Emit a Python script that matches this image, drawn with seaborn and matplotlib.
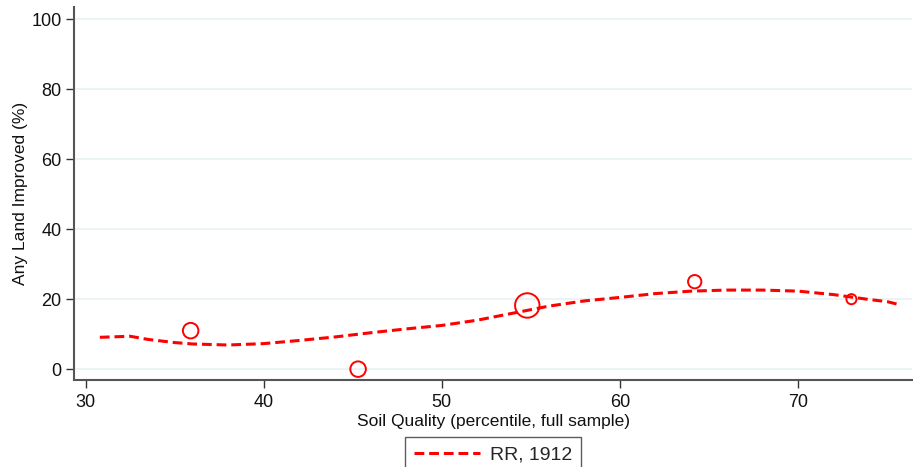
import matplotlib
matplotlib.use("Agg")
import matplotlib.pyplot as plt
import seaborn as sns
import pandas as pd
from matplotlib.lines import Line2D

# Binned means (percentile of soil quality vs share with any land improved)
bin_x = [35.9, 45.3, 54.8, 64.2, 73.0]
bin_y = [11.0, 0.0, 18.2, 25.0, 20.0]
bin_w = [125, 125, 310, 92, 53]

# Smoothed fit
fit_x = [30.8, 32.5, 33.5, 35, 36, 38, 40, 42, 44, 46, 48, 50, 52, 54, 56,
         58, 60, 62, 64, 66, 68, 70, 72, 74, 75, 75.8]
fit_y = [9.1, 9.4, 8.5, 7.6, 7.2, 6.9, 7.3, 8.2, 9.2, 10.4, 11.5, 12.5, 14.0,
         16.0, 18.0, 19.5, 20.5, 21.6, 22.3, 22.6, 22.6, 22.3, 21.3, 19.9,
         19.3, 18.3]

x_ticks = [30, 40, 50, 60, 70]
y_ticks = [0, 20, 40, 60, 80, 100]
series_label = "RR, 1912"

sns.set_theme(style="white")
plt.rcParams["font.family"] = ["Liberation Sans", "DejaVu Sans"]

fig = plt.figure(figsize=(9.13, 4.67), dpi=100)
ax = fig.add_axes([74 / 913, 1 - 380 / 467, (912 - 74) / 913, (380 - 7) / 467])

red = "#ff0000"
bins = pd.DataFrame({"x": bin_x, "y": bin_y, "w": bin_w})
fit = pd.DataFrame({"x": fit_x, "y": fit_y})

for yv in y_ticks:
    ax.axhline(yv, color="#eaf2f3", lw=1.3, zorder=0)

sns.lineplot(data=fit, x="x", y="y", ax=ax, color=red, lw=2.2,
             dashes=False, linestyle=(0, (3.2, 1.6)), zorder=3)
sns.scatterplot(data=bins, x="x", y="y", size="w",
                sizes=(min(bin_w), max(bin_w)), size_norm=(min(bin_w), max(bin_w)),
                marker="o", facecolors="none", edgecolors=red, linewidth=1.4,
                legend=False, ax=ax, zorder=4)

ax.set_xlim(29.35, 76.4)
ax.set_ylim(-3.1, 103.5)
ax.set_xticks(x_ticks)
ax.set_yticks(y_ticks)
ax.tick_params(axis="both", which="major", labelsize=13, length=6,
               width=1, color="#333333", labelcolor="#111111", pad=4,
               direction="out", bottom=True, left=True)
ax.tick_params(axis="y", pad=3)
for side in ("top", "right"):
    ax.spines[side].set_visible(False)
for side in ("left", "bottom"):
    ax.spines[side].set_color("#555555")
    ax.spines[side].set_linewidth(1.5)
ax.grid(False)

ax.set_xlabel("Soil Quality (percentile, full sample)", fontsize=12.5, labelpad=2, color="#111111")
ax.set_ylabel("Any Land Improved (%)", fontsize=12.5, labelpad=2, color="#111111")

handle = Line2D([], [], color=red, lw=2.2, linestyle=(0, (3.2, 1.6)))
leg = fig.legend([handle], [series_label], loc="upper center",
                 bbox_to_anchor=(493 / 913, 1 - 437 / 467), borderaxespad=0,
                 frameon=True, fancybox=False, edgecolor="#333333",
                 fontsize=14, handlelength=3.4, borderpad=0.45,
                 handletextpad=0.5)
leg.get_frame().set_linewidth(1.0)

fig.savefig("out.png", dpi=100)
